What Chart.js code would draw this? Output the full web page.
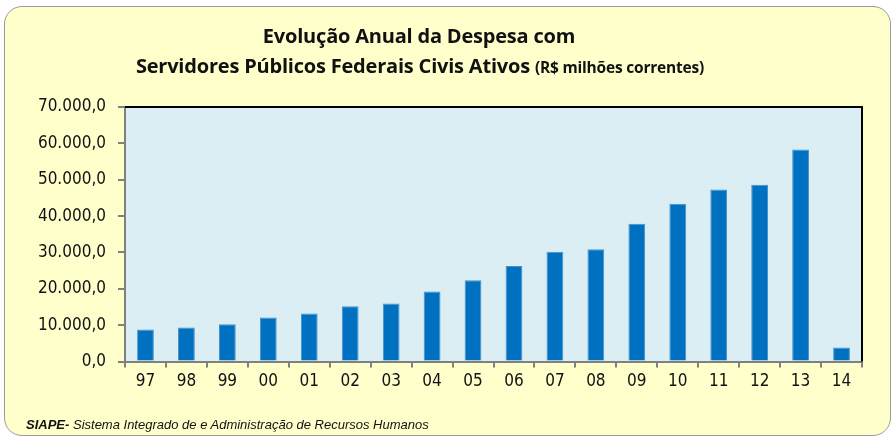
<!DOCTYPE html>
<html><head><meta charset="utf-8">
<script src="https://cdn.jsdelivr.net/npm/chart.js@4/dist/chart.umd.min.js"></script>
<style>
html,body{margin:0;padding:0;width:894px;height:439px;overflow:hidden;background:#fff;}
#box{position:absolute;left:4px;top:6px;width:885px;height:428px;background:#FFFFCC;border:1.5px solid #9a9a9a;border-radius:18px;}
#wrap{position:absolute;left:0;top:0;width:894px;height:439px;}
.t{position:absolute;font-family:"Open Sans",sans-serif;font-weight:bold;color:#111;white-space:nowrap;letter-spacing:-0.2px;}
#t1{left:0;width:838px;text-align:center;top:22px;font-size:20px;}
#t2{left:0;width:840px;text-align:center;top:52px;font-size:20px;}
#t2 span{font-size:15.5px;}
#foot{position:absolute;left:26px;top:417px;font-family:"Liberation Sans",Arial,sans-serif;font-style:italic;font-size:13px;color:#111;white-space:nowrap;}
</style></head>
<body>
<div id="box"></div>
<div id="wrap"><canvas id="c" width="894" height="439"></canvas></div>
<div class="t" id="t1">Evolução Anual da Despesa com</div>
<div class="t" id="t2">Servidores Públicos Federais Civis Ativos <span>(R$ milhões correntes)</span></div>
<div id="foot"><b>SIAPE-</b> Sistema Integrado de e Administração de Recursos Humanos</div>
<script>
const categories = ["97","98","99","00","01","02","03","04","05","06","07","08","09","10","11","12","13","14"];
const despesa = [8800,9400,10250,12100,13200,15200,16000,19300,22400,26300,30200,30900,37900,43400,47300,48600,58300,3900];
const yTicks = [0,10000,20000,30000,40000,50000,60000,70000];

function fmt(v){
  const s = Math.round(v).toString().replace(/\B(?=(\d{3})+(?!\d))/g, ".");
  return s + ",0";
}

const plotBg = {
  id:'plotBg',
  beforeDraw(chart){
    const {ctx, chartArea:a} = chart;
    ctx.save();
    ctx.fillStyle = '#DAEEF4';
    ctx.fillRect(a.left, a.top, a.right-a.left, a.bottom-a.top);
    ctx.restore();
  },
  afterDatasetsDraw(chart){
    const {ctx, chartArea:a} = chart;
    ctx.save();
    ctx.strokeStyle = '#000';
    ctx.lineWidth = 2;
    ctx.beginPath();
    ctx.moveTo(a.left, a.top);
    ctx.lineTo(a.right, a.top);
    ctx.lineTo(a.right, a.bottom);
    ctx.stroke();
    ctx.restore();
  }
};

new Chart(document.getElementById('c'), {
  type:'bar',
  data:{labels:categories, datasets:[{data:despesa, backgroundColor:'#0070C0', borderColor:'#4A90C8', borderWidth:{top:1,left:1,right:1,bottom:0}, borderSkipped:'bottom', barPercentage:0.41, categoryPercentage:1.0}]},
  options:{
    responsive:false, animation:false, devicePixelRatio:1,
    layout:{padding:{left:0,right:32,top:107,bottom:43}},
    plugins:{legend:{display:false}, tooltip:{enabled:false}, title:{display:false}},
    scales:{
      x:{
        grid:{display:true, drawOnChartArea:false, offset:true, color:'#808080', lineWidth:2, tickLength:6},
        border:{display:true, color:'#808080', width:2},
        ticks:{color:'#111', font:{family:'"DejaVu Sans Condensed", "DejaVu Sans"', size:17}, padding:4, maxRotation:0}
      },
      y:{
        min:0, max:70000,
        afterBuildTicks(axis){ axis.ticks = yTicks.map(v=>({value:v})); },
        afterFit(axis){ axis.width = 125; },
        grid:{display:true, drawOnChartArea:false, color:'#808080', lineWidth:2, tickLength:7},
        border:{display:true, color:'#808080', width:2},
        ticks:{color:'#111', font:{family:'"DejaVu Sans Condensed", "DejaVu Sans"', size:17}, padding:12, callback:(v)=>fmt(v)}
      }
    }
  },
  plugins:[plotBg]
});
</script>
</body></html>
